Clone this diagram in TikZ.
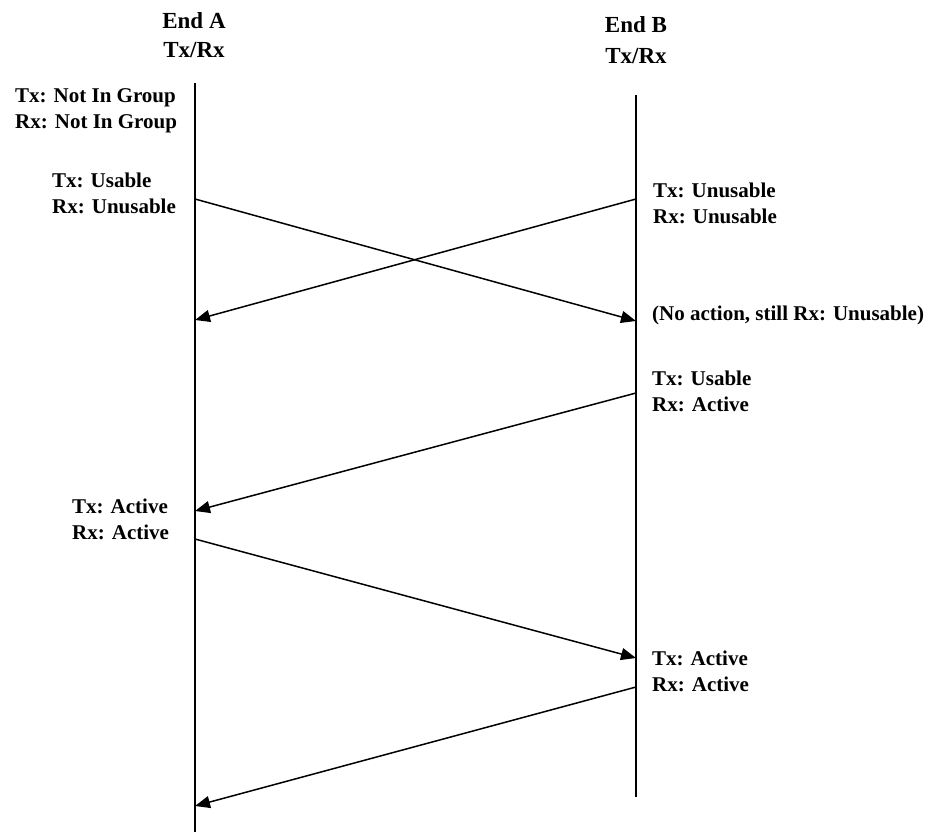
\documentclass[tikz,border=0pt]{standalone}
\usepackage{fontspec}
\setmainfont{Liberation Serif}
\usetikzlibrary{arrows.meta}
\begin{document}
\begin{tikzpicture}[x=1pt,y=-1pt,
  lbl/.style={font=\bfseries\fontsize{21}{26}\selectfont, inner sep=0pt, align=left},
  hdr/.style={font=\bfseries\fontsize{23}{#1}\selectfont, inner sep=0pt, align=center},
  life/.style={line width=1.5pt},
  msg/.style={line width=1.5pt, -{Triangle[length=15pt,width=12pt]}}]
\useasboundingbox (0,0) rectangle (929,832);
% headers
\node[hdr=29, anchor=north] (hA) at (194,12.5) {End A\\Tx/Rx};
\node[hdr=31, anchor=north] (hB) at (636,16.5) {End B\\Tx/Rx};
% lifelines
\coordinate (Atop) at (195,83);
\coordinate (Abot) at (195,832);
\coordinate (Btop) at (636,95);
\coordinate (Bbot) at (636,797);
\draw[life] (Atop) -- (Abot);
\draw[life] (Btop) -- (Bbot);
% message end points
\coordinate (a1) at (195,199);
\coordinate (b1) at (636,321);
\coordinate (b2) at (636,199);
\coordinate (a2) at (195,320);
\coordinate (b3) at (636,393);
\coordinate (a3) at (195,511);
\coordinate (a4) at (195,539);
\coordinate (b4) at (636,658);
\coordinate (b5) at (636,687);
\coordinate (a5) at (195,806);
\draw[msg] (a1) -- (b1);
\draw[msg] (b2) -- (a2);
\draw[msg] (b3) -- (a3);
\draw[msg] (a4) -- (b4);
\draw[msg] (b5) -- (a5);
% state labels
\node[lbl, anchor=north west] (sA0) at (15,88) {Tx: Not In Group\\Rx: Not In Group};
\node[lbl, anchor=north west] (sA1) at (52,173) {Tx: Usable\\Rx: Unusable};
\node[lbl, anchor=north west] (sB1) at (653,183) {Tx: Unusable\\Rx: Unusable};
\node[lbl, anchor=base west] (sB2) at (652,320) {(No action, still Rx: Unusable)};
\node[lbl, anchor=north west] (sB3) at (652,371) {Tx: Usable\\Rx: Active};
\node[lbl, anchor=north west] (sA2) at (72,499) {Tx: Active\\Rx: Active};
\node[lbl, anchor=north west] (sB4) at (652,651) {Tx: Active\\Rx: Active};
\end{tikzpicture}
\end{document}
